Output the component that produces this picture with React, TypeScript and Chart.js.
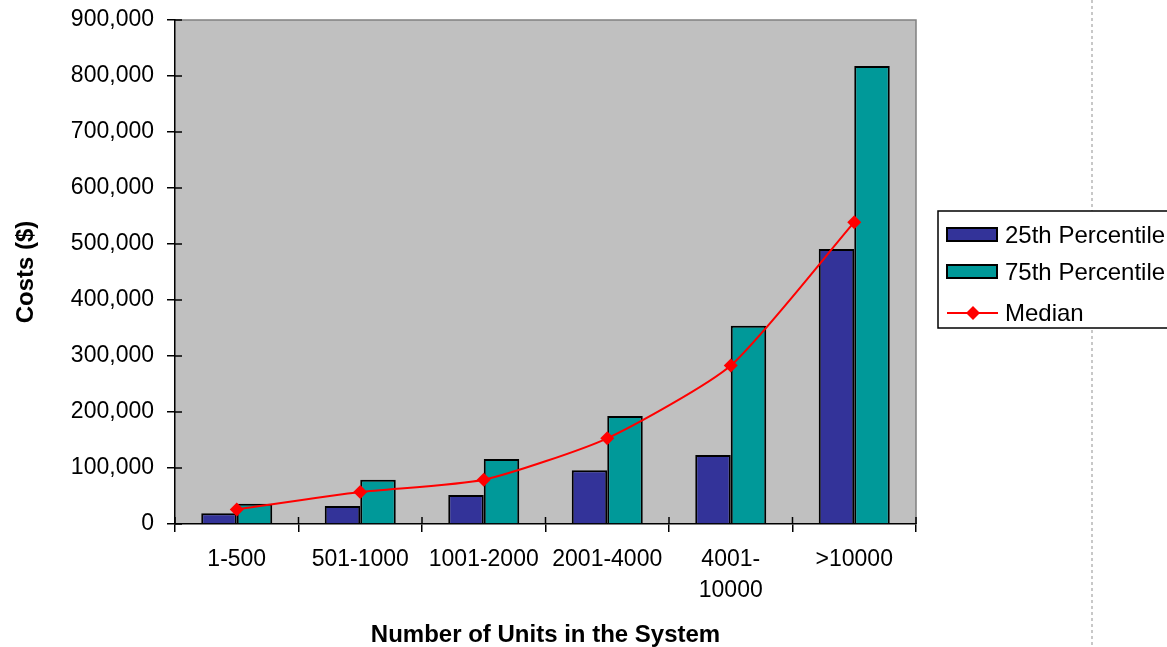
import React, { useEffect, useRef } from 'react';
import { Chart, registerables } from 'chart.js';

Chart.register(...registerables);

const FONT = "'Liberation Sans', Arial, Helvetica, sans-serif";

const categories: (string | string[])[] = ['1-500', '501-1000', '1001-2000', '2001-4000', ['4001-', '10000'], '>10000'];
const p25Values = [19000, 32000, 52000, 96000, 123000, 491000];
const p75Values = [36000, 79000, 116000, 193000, 354000, 818000];
const medianValues = [26000, 57000, 79000, 153000, 283000, 539000];
const yTickValues = [0, 100000, 200000, 300000, 400000, 500000, 600000, 700000, 800000, 900000];

const BLUE = '#333399';
const TEAL = '#009999';
const RED = '#FF0000';

const decorPlugin = {
  id: 'decor',
  beforeDraw(chart: any) {
    const { ctx, chartArea: a, height } = chart;
    ctx.save();
    // dotted page divider
    ctx.strokeStyle = '#c8c8c8';
    ctx.lineWidth = 2;
    ctx.setLineDash([3, 3]);
    ctx.beginPath();
    ctx.moveTo(a.right + 176, 0);
    ctx.lineTo(a.right + 176, height);
    ctx.stroke();
    ctx.setLineDash([]);
    // plot area
    ctx.fillStyle = '#C0C0C0';
    ctx.fillRect(a.left, a.top, a.right - a.left, a.bottom - a.top);
    ctx.strokeStyle = '#808080';
    ctx.lineWidth = 1.5;
    ctx.beginPath();
    ctx.moveTo(a.left, a.top);
    ctx.lineTo(a.right, a.top);
    ctx.lineTo(a.right, a.bottom);
    ctx.stroke();
    ctx.restore();
  },
  afterDraw(chart: any) {
    const { ctx, chartArea: a, width } = chart;
    const xs = chart.scales.x;
    const ys = chart.scales.y;
    ctx.save();
    // inward halves of cross tick marks
    ctx.strokeStyle = '#000';
    ctx.lineWidth = 1.5;
    ctx.beginPath();
    ys.ticks.forEach((_t: any, i: number) => {
      const py = ys.getPixelForTick(i);
      ctx.moveTo(a.left, py);
      ctx.lineTo(a.left + 7, py);
    });
    for (let i = 0; i <= categories.length; i++) {
      const px = xs.getPixelForValue(i - 0.5);
      ctx.moveTo(px, a.bottom);
      ctx.lineTo(px, a.bottom - 7);
    }
    ctx.stroke();

    // legend
    const lx = a.right + 22;
    const ty = a.top + 191;
    const by = a.top + 308;
    ctx.fillStyle = '#fff';
    ctx.fillRect(lx, ty, width - lx + 20, by - ty);
    ctx.strokeStyle = '#000';
    ctx.lineWidth = 1.5;
    ctx.strokeRect(lx, ty, width - lx + 20, by - ty);
    const rows = [ty + 24, ty + 61, ty + 102];
    const ds = chart.data.datasets;
    ctx.font = `24px ${FONT}`;
    ctx.textBaseline = 'middle';
    ctx.textAlign = 'left';
    ds.forEach((d: any, i: number) => {
      const cy = rows[i];
      if (d.type === 'line') {
        ctx.strokeStyle = d.borderColor;
        ctx.lineWidth = 2;
        ctx.beginPath();
        ctx.moveTo(lx + 9, cy);
        ctx.lineTo(lx + 60, cy);
        ctx.stroke();
        ctx.fillStyle = d.borderColor;
        ctx.beginPath();
        ctx.moveTo(lx + 35 - 7, cy);
        ctx.lineTo(lx + 35, cy - 7);
        ctx.lineTo(lx + 35 + 7, cy);
        ctx.lineTo(lx + 35, cy + 7);
        ctx.closePath();
        ctx.fill();
      } else {
        ctx.fillStyle = d.backgroundColor;
        ctx.fillRect(lx + 9, cy - 7, 50, 13);
        ctx.strokeStyle = '#000';
        ctx.lineWidth = 2;
        ctx.strokeRect(lx + 9, cy - 7, 50, 13);
      }
      ctx.fillStyle = '#000';
      ctx.fillText(d.label, lx + 67, cy + 1);
    });
    ctx.restore();
  },
};

export default function App() {
  const ref = useRef<HTMLCanvasElement>(null);
  useEffect(() => {
    const chart = new Chart(ref.current!, {
      type: 'bar',
      data: {
        labels: categories as any,
        datasets: [
          {
            type: 'bar',
            label: '25th Percentile',
            data: p25Values,
            backgroundColor: BLUE,
            borderColor: '#000',
            borderWidth: 2,
            categoryPercentage: 0.575,
            barPercentage: 1.0,
            order: 2,
          },
          {
            type: 'bar',
            label: '75th Percentile',
            data: p75Values,
            backgroundColor: TEAL,
            borderColor: '#000',
            borderWidth: 2,
            categoryPercentage: 0.575,
            barPercentage: 1.0,
            order: 2,
          },
          {
            type: 'line',
            label: 'Median',
            data: medianValues,
            borderColor: RED,
            backgroundColor: RED,
            borderWidth: 2,
            pointStyle: 'rectRot',
            pointRadius: 7,
            pointBorderWidth: 0,
            pointBackgroundColor: RED,
            tension: 0.2,
            order: 1,
          } as any,
        ],
      },
      options: {
        animation: false,
        responsive: true,
        maintainAspectRatio: false,
        layout: { padding: { left: 0, top: 20, right: 251, bottom: 0 } },
        plugins: {
          legend: { display: false },
          tooltip: { enabled: false },
        },
        scales: {
          x: {
            offset: true,
            grid: {
              offset: true,
              drawOnChartArea: false,
              drawTicks: true,
              tickLength: 8,
              color: '#000',
              lineWidth: 1.5,
            },
            border: { color: '#000', width: 1.5 },
            ticks: {
              color: '#000',
              font: { family: FONT, size: 23, lineHeight: 1.35 },
              padding: 12,
              maxRotation: 0,
              autoSkip: false,
            },
            title: {
              display: true,
              text: 'Number of Units in the System',
              color: '#000',
              font: { family: FONT, size: 24, weight: 'bold', lineHeight: 0.95 },
              padding: { top: 0, bottom: 0 },
            },
            afterFit: (s: any) => {
              s.height = 123;
              s.paddingLeft = 0;
              s.paddingRight = 0;
            },
          },
          y: {
            min: 0,
            max: 900000,
            afterBuildTicks: (s: any) => {
              s.ticks = yTickValues.map((v) => ({ value: v }));
            },
            grid: {
              drawOnChartArea: false,
              drawTicks: true,
              tickLength: 8,
              color: '#000',
              lineWidth: 1.5,
            },
            border: { color: '#000', width: 1.5 },
            ticks: {
              color: '#000',
              font: { family: FONT, size: 23 },
              padding: 13,
              callback: (v: any) => Number(v).toLocaleString('en-US'),
            },
            title: {
              display: true,
              text: 'Costs ($)',
              color: '#000',
              font: { family: FONT, size: 24, weight: 'bold', lineHeight: 1.2 },
              padding: { top: 12, bottom: 0 },
            },
            afterFit: (s: any) => {
              s.width = 175;
              s.paddingTop = 0;
              s.paddingBottom = 0;
            },
          },
        },
      },
      plugins: [decorPlugin],
    });
    return () => chart.destroy();
  }, []);
  return (
    <div style={{ position: 'fixed', left: 0, top: 0, width: 1167, height: 647, background: '#fff' }}>
      <canvas ref={ref} />
    </div>
  );
}
